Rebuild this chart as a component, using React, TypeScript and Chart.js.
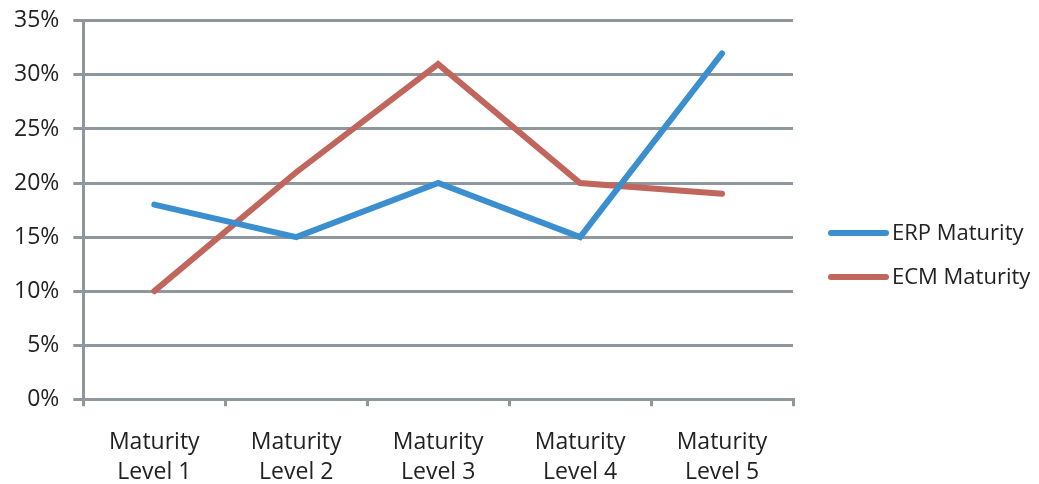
import React, { useEffect, useRef } from "react";
import { Chart, registerables } from "chart.js";

Chart.register(...registerables);

const categories: string[][] = [
  ["Maturity", "Level 1"],
  ["Maturity", "Level 2"],
  ["Maturity", "Level 3"],
  ["Maturity", "Level 4"],
  ["Maturity", "Level 5"],
];
const erpValues = [18, 15, 20, 15, 32];
const ecmValues = [10, 21, 31, 20, 19];
const seriesNames = ["ERP Maturity", "ECM Maturity"];
const seriesColors = ["#3C8FCE", "#C0665D"];
const yMax = 35;
const yStep = 5;

const FONT = "'Open Sans', Lato, sans-serif";
const GRID = "#8E979D";
const FS = 23;

const legendPlugin = {
  id: "sideLegend",
  afterDraw(chart: any) {
    const ctx = chart.ctx;
    const area = chart.chartArea;
    const sets = chart.data.datasets;
    const x0 = area.right + 38;
    const yStart = 233;
    const gap = 44;
    ctx.save();
    sets.forEach((ds: any, i: number) => {
      const y = yStart + i * gap;
      ctx.strokeStyle = ds.borderColor;
      ctx.lineWidth = 6;
      ctx.lineCap = "round";
      ctx.beginPath();
      ctx.moveTo(x0, y);
      ctx.lineTo(x0 + 55, y);
      ctx.stroke();
      ctx.fillStyle = "#222222";
      ctx.font = `${FS - 1}px ${FONT}`;
      ctx.textBaseline = "middle";
      ctx.textAlign = "left";
      ctx.fillText(ds.label, x0 + 61, y + 1);
    });
    ctx.restore();
  },
};

export default function App() {
  const ref = useRef<HTMLCanvasElement | null>(null);
  useEffect(() => {
    if (!ref.current) return;
    const chart = new Chart(ref.current, {
      type: "line",
      data: {
        labels: categories,
        datasets: [
          {
            label: seriesNames[0],
            data: erpValues,
            borderColor: seriesColors[0],
            backgroundColor: seriesColors[0],
            borderWidth: 6,
            pointRadius: 0,
            tension: 0,
            borderCapStyle: "round",
          },
          {
            label: seriesNames[1],
            data: ecmValues,
            borderColor: seriesColors[1],
            backgroundColor: seriesColors[1],
            borderWidth: 6,
            pointRadius: 0,
            tension: 0,
            borderCapStyle: "round",
          },
        ],
      },
      options: {
        animation: false,
        responsive: false,
        maintainAspectRatio: false,
        layout: { padding: { top: 0, right: 246, left: 0, bottom: -24 } },
        plugins: {
          legend: { display: false },
          tooltip: { enabled: false },
        },
        scales: {
          x: {
            offset: true,
            grid: {
              offset: true,
              drawOnChartArea: false,
              drawTicks: true,
              tickLength: 7,
              color: GRID,
              lineWidth: 3,
            },
            border: { display: true, color: GRID, width: 3 },
            ticks: {
              font: { family: FONT, size: FS, lineHeight: 1.3 },
              color: "#222222",
              padding: 21,
              maxRotation: 0,
            },
          },
          y: {
            min: 0,
            max: yMax,
            grid: {
              color: GRID,
              lineWidth: 3,
              drawTicks: true,
              tickLength: 10,
            },
            border: { display: true, color: GRID, width: 3 },
            ticks: {
              stepSize: yStep,
              font: { family: FONT, size: FS, lineHeight: 0.6 },
              color: "#222222",
              padding: 14,
              callback: (v: any) => `${v}%`,
            },
          },
        },
      },
      plugins: [legendPlugin],
    });
    return () => chart.destroy();
  }, []);
  return (
    <div style={{ position: "fixed", left: 0, top: 0, width: 1039, height: 484, background: "#fff" }}>
      <canvas ref={ref} width={1039} height={484} style={{ width: 1039, height: 484 }} />
    </div>
  );
}
